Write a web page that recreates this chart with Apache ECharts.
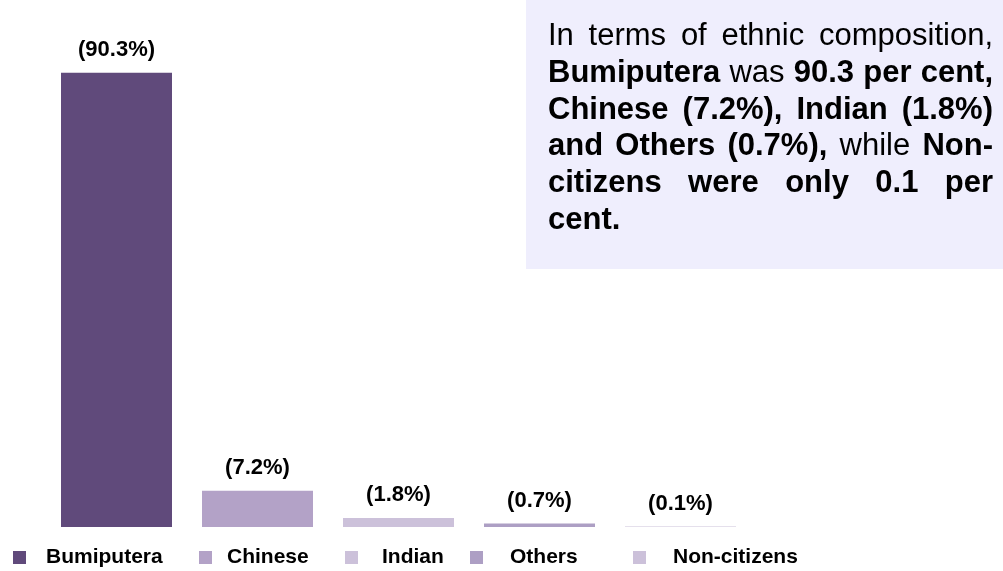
<!DOCTYPE html>
<html>
<head>
<meta charset="utf-8">
<script src="https://cdn.jsdelivr.net/npm/echarts@6/dist/echarts.min.js"></script>
<style>
  html, body { margin: 0; padding: 0; background: #fff; }
  #chart { width: 1003px; height: 571px; }
</style>
</head>
<body>
<div id="chart"></div>
<script>
  // data
  const categories = ['Bumiputera', 'Chinese', 'Indian', 'Others', 'Non-citizens'];
  const shares = [90.3, 7.2, 1.8, 0.7, 0.1];

  // note text, one entry per line: [word, bold]
  const noteLines = [
    [['In', 0], ['terms', 0], ['of', 0], ['ethnic', 0], ['composition,', 0]],
    [['Bumiputera', 1], ['was', 0], ['90.3', 1], ['per', 1], ['cent,', 1]],
    [['Chinese', 1], ['(7.2%),', 1], ['Indian', 1], ['(1.8%)', 1]],
    [['and', 1], ['Others', 1], ['(0.7%),', 1], ['while', 0], ['Non-', 1]],
    [['citizens', 1], ['were', 1], ['only', 1], ['0.1', 1], ['per', 1]],
    [['cent.', 1]]
  ];

  const colors = ['#604a7b', '#b3a2c7', '#ccc1da', '#ad9fc4', '#ccc1da'];
  const FONT = '"Liberation Sans", Arial, sans-serif';

  const myChart = echarts.init(document.getElementById('chart'));

  // series: one per group so each has its own legend entry
  let seriesData = [];
  categories.map((name, i) => {
    seriesData.push({
      name: name,
      type: 'bar',
      stack: 'all',
      barWidth: 111,
      itemStyle: { color: colors[i] },
      label: {
        show: true,
        position: 'top',
        distance: 12,
        formatter: (p) => '(' + p.value.toFixed(1) + '%)',
        color: '#000',
        fontFamily: FONT,
        fontWeight: 'bold',
        fontSize: 22
      },
      data: shares.map((v, j) => (j === i ? v : null))
    });
  });

  // legends placed one by one (spacing is uneven in the original)
  const legendLeft = [13, 199, 345, 470, 633];
  const legendGap = [15, 10, 19, 22, 22];
  let legends = categories.map((name, i) => ({
    data: [name],
    left: legendLeft[i],
    top: 547,
    padding: 0,
    icon: 'rect',
    itemWidth: 13,
    itemHeight: 13,
    selectedMode: false,
    textStyle: {
      color: '#000',
      fontFamily: FONT,
      fontWeight: 'bold',
      fontSize: 21,
      padding: [3, 0, 0, legendGap[i]]
    }
  }));

  // justified note box
  const boxLeft = 548, boxRight = 993, fontSize = 31;
  const ctx = document.createElement('canvas').getContext('2d');
  let noteTexts = [];
  noteLines.map((line, li) => {
    const widths = line.map((w) => {
      ctx.font = (w[1] ? 'bold ' : '') + fontSize + 'px ' + FONT;
      return ctx.measureText(w[0]).width;
    });
    ctx.font = fontSize + 'px ' + FONT;
    const space = ctx.measureText(' ').width;
    const total = widths.reduce((a, b) => a + b, 0);
    const last = li === noteLines.length - 1;
    const gap = last || line.length < 2 ? space : (boxRight - boxLeft - total) / (line.length - 1);
    let x = boxLeft;
    line.map((w, wi) => {
      noteTexts.push({
        type: 'text',
        left: x,
        top: 21 + li * 36.8,
        style: {
          text: w[0],
          fill: '#000',
          font: (w[1] ? 'bold ' : '') + fontSize + 'px ' + FONT
        }
      });
      x += widths[wi] + gap;
    });
  });

  myChart.setOption({
    animation: false,
    legend: legends,
    grid: {
      top: 24,
      left: 46,
      right: 252,
      bottom: 44
    },
    xAxis: {
      type: 'category',
      data: categories,
      show: false
    },
    yAxis: {
      type: 'value',
      min: 0,
      max: 100,
      show: false
    },
    graphic: [
      {
        type: 'rect',
        left: 526,
        top: 0,
        shape: { width: 477, height: 269 },
        style: { fill: '#efeefd' },
        z: -1
      }
    ].concat(noteTexts),
    series: seriesData
  });

  window.addEventListener('resize', () => {
    myChart && myChart.resize();
  });
</script>
</body>
</html>
